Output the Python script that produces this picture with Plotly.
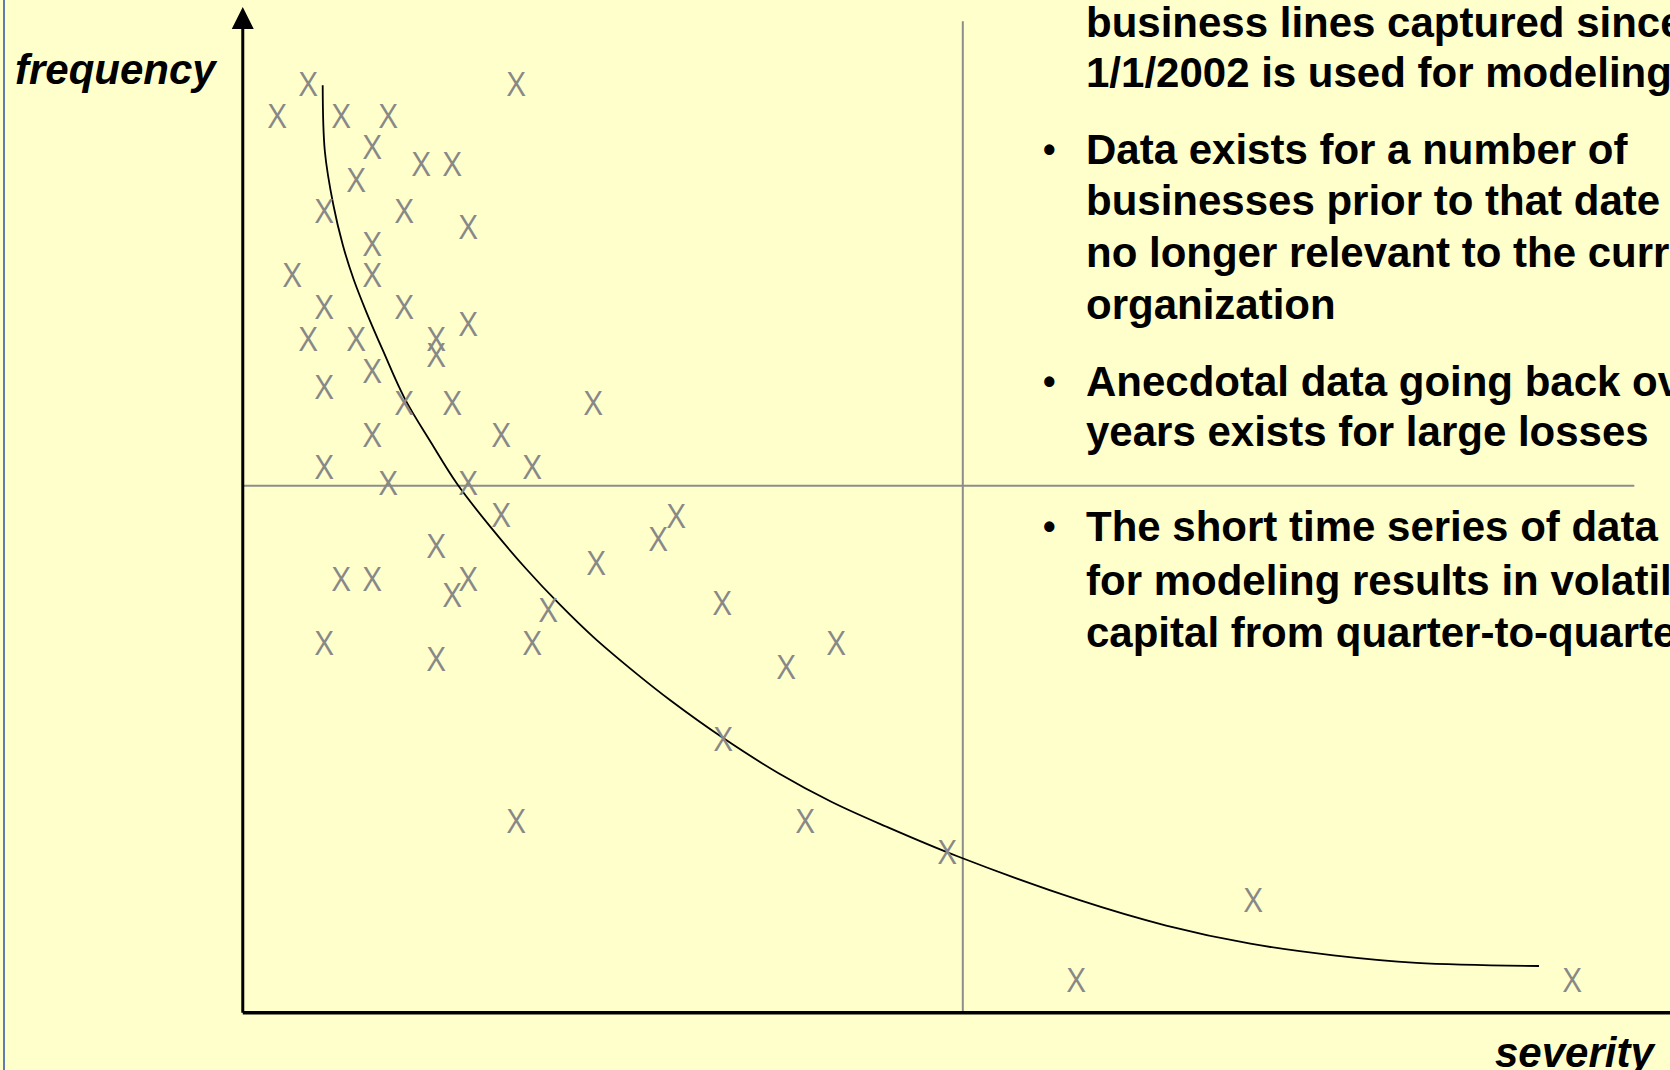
import plotly.graph_objects as go

# ---------------- data ----------------
# loss events: severity (x) and frequency (y), arbitrary units 0..100
severity = [4.6, 19.2, 2.4, 6.9, 10.2, 9.1, 12.5, 14.7, 8.0, 5.7, 11.3, 15.8, 9.1,
            3.5, 9.1, 5.7, 11.3, 15.8, 4.6, 8.0, 13.6, 13.6, 9.1, 5.7, 11.3, 14.7,
            24.6, 9.1, 18.1, 5.7, 20.3, 10.2, 15.8, 18.1, 30.4, 29.1, 13.6, 24.8,
            6.9, 9.1, 15.8, 14.7, 33.6, 21.4, 5.7, 20.3, 41.6, 13.6, 38.1, 33.7,
            19.2, 39.4, 49.4, 70.8, 58.4, 93.2]
frequency = [91.8, 91.8, 88.6, 88.6, 88.6, 85.5, 83.9, 83.9, 82.3, 79.2, 79.2, 77.6, 76.0,
             72.9, 72.9, 69.7, 69.7, 68.1, 66.6, 66.6, 66.6, 65.0, 63.4, 61.8, 60.3, 60.3,
             60.3, 57.1, 57.1, 53.9, 53.9, 52.4, 52.4, 49.2, 49.1, 46.8, 46.1, 44.5,
             42.9, 42.9, 42.9, 41.3, 40.5, 39.8, 36.6, 36.6, 36.6, 35.0, 34.2, 27.1,
             19.0, 19.0, 15.9, 11.2, 3.3, 3.3]
point_label = "X"

# fitted severity/frequency curve
curve_sev = [5.60, 5.75, 6.34, 7.01, 7.76, 8.66, 9.85, 11.34, 13.21, 15.00, 17.31, 19.85,
             22.24, 24.55, 27.54, 30.00, 33.66, 37.54, 41.27, 45.07, 50.07, 58.58, 64.70,
             70.60, 76.42, 82.24, 90.82]
curve_freq = [91.59, 85.07, 79.81, 75.81, 72.45, 69.19, 65.30, 60.67, 56.26, 52.26, 48.05,
              43.85, 40.27, 37.12, 33.54, 30.81, 27.13, 23.66, 20.82, 18.40, 15.46, 11.15,
              8.62, 6.83, 5.68, 4.94, 4.63]

# quadrant guide lines
guide_sev = 50.45
guide_freq = 52.05
guide_sev_top = 97.9
guide_freq_right = 97.5

x_label = "severity"
y_label = "frequency"

text_lines = [
    "business lines captured since",
    "1/1/2002 is used for modeling",
    "Data exists for a number of",
    "businesses prior to that date",
    "no longer relevant to the current",
    "organization",
    "Anecdotal data going back over",
    "years exists for large losses",
    "The short time series of data",
    "for modeling results in volatile",
    "capital from quarter-to-quarter",
]
line_has_bullet = [False, False, True, False, False, False, True, False, True, False, False]

# ---------------- layout constants ----------------
W, H = 1670, 1070
X_RANGE = [-17.01, 100.0]
Y_RANGE = [-5.64, 100.0]
line_y_px = [22, 72, 149, 200, 253, 304, 381, 432, 526, 580, 632]
TEXT_X_PX = 1084
BULLET_X_PX = 1049

BG = "#FFFFCC"
GREY = "#8C8C8C"
BODY_FONT = "Liberation Sans, Arial, sans-serif"
POINT_FONT = dict(family="Open Sans, sans-serif", size=32, color="#888888")


def px_x(p):
    return p / W


def px_y(p):
    return 1 - p / H


fig = go.Figure()

# fitted curve
fig.add_trace(go.Scatter(
    x=curve_sev, y=curve_freq, mode="lines",
    line=dict(color="black", width=1.8, shape="spline", smoothing=1.0),
    hoverinfo="skip", showlegend=False,
))

# arrow heads on the axes
fig.add_trace(go.Scatter(
    x=[0], y=[99.3], mode="markers",
    marker=dict(symbol="arrow-up", size=22, color="black", line=dict(width=0)),
    showlegend=False, cliponaxis=False, hoverinfo="skip",
))
fig.add_trace(go.Scatter(
    x=[100.84], y=[0], mode="markers",
    marker=dict(symbol="arrow-right", size=22, color="black", line=dict(width=0)),
    showlegend=False, cliponaxis=False, hoverinfo="skip",
))

shapes = [
    # guide lines
    dict(type="line", xref="x", yref="y", x0=guide_sev, x1=guide_sev, y0=0, y1=guide_sev_top,
         line=dict(color=GREY, width=2), layer="below"),
    dict(type="line", xref="x", yref="y", x0=0, x1=guide_freq_right, y0=guide_freq, y1=guide_freq,
         line=dict(color=GREY, width=2), layer="below"),
    # axes
    dict(type="line", xref="x", yref="y", x0=0, x1=0, y0=0, y1=98.0,
         line=dict(color="black", width=3)),
    dict(type="line", xref="x", yref="y", x0=0, x1=100.0, y0=0, y1=0,
         line=dict(color="black", width=3.5)),
    # slide border
    dict(type="line", xref="paper", yref="paper", x0=px_x(4), x1=px_x(4), y0=0, y1=1,
         line=dict(color="#5F7DAE", width=2)),
]

annotations = []
# loss events drawn as "X" glyphs at their data positions
for sx, fy in zip(severity, frequency):
    annotations.append(dict(
        text=point_label, x=sx, y=fy, xref="x", yref="y",
        xanchor="center", yanchor="middle", showarrow=False,
        font=POINT_FONT,
    ))

annotations += [
    dict(text=f"<b><i>{y_label}</i></b>", x=px_x(116), y=px_y(69), xref="paper", yref="paper",
         xanchor="center", yanchor="middle", showarrow=False,
         font=dict(family=BODY_FONT, size=42, color="black")),
    dict(text=f"<b><i>{x_label}</i></b>", x=px_x(1658), y=px_y(1052), xref="paper", yref="paper",
         xanchor="right", yanchor="middle", showarrow=False,
         font=dict(family=BODY_FONT, size=42, color="black")),
]
for txt, ypx, bul in zip(text_lines, line_y_px, line_has_bullet):
    annotations.append(dict(
        text=f"<b>{txt}</b>", x=px_x(TEXT_X_PX), y=px_y(ypx), xref="paper", yref="paper",
        xanchor="left", yanchor="middle", showarrow=False, align="left",
        font=dict(family=BODY_FONT, size=42, color="black"),
    ))
    if bul:
        annotations.append(dict(
            text="<b>•</b>", x=px_x(BULLET_X_PX), y=px_y(ypx), xref="paper", yref="paper",
            xanchor="center", yanchor="middle", showarrow=False,
            font=dict(family=BODY_FONT, size=36, color="black"),
        ))

fig.update_layout(
    width=W, height=H,
    margin=dict(l=0, r=0, t=0, b=0, pad=0),
    paper_bgcolor=BG, plot_bgcolor=BG,
    xaxis=dict(range=X_RANGE, visible=False, fixedrange=True),
    yaxis=dict(range=Y_RANGE, visible=False, fixedrange=True),
    shapes=shapes, annotations=annotations,
    showlegend=False,
)

fig.write_html(
    "out.html",
    config={"displayModeBar": False},
    post_script="document.body.style.margin='0';document.body.style.overflow='hidden';",
)
